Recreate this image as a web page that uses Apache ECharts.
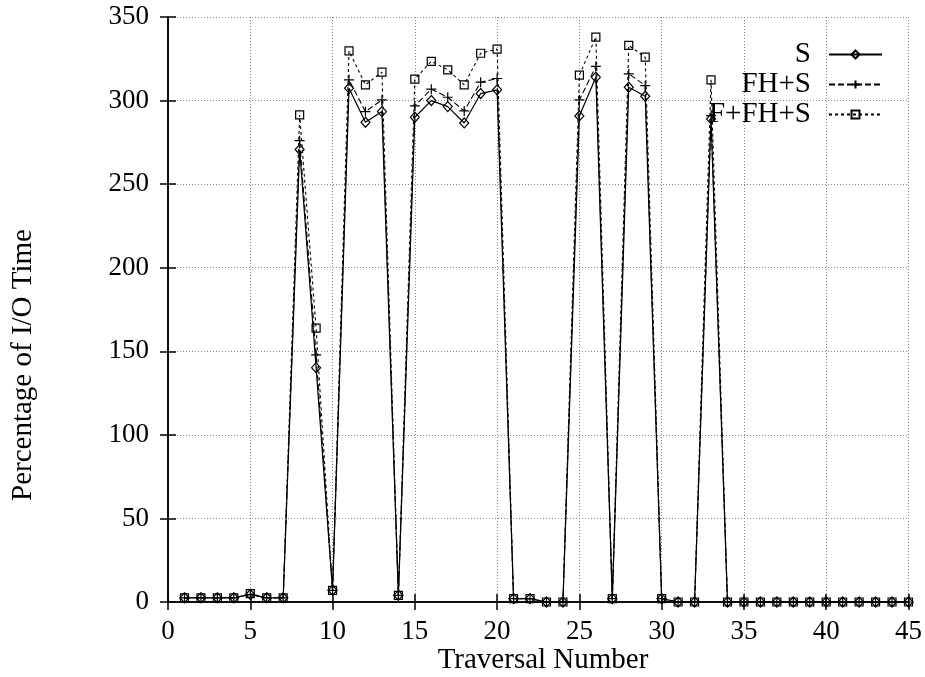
<!DOCTYPE html>
<html>
<head>
<meta charset="utf-8">
<script src="https://cdn.jsdelivr.net/npm/echarts@6/dist/echarts.min.js"></script>
<style>
html,body{margin:0;padding:0;background:#fff;}
#chart{width:925px;height:677px;}
</style>
</head>
<body>
<div id="chart"></div>
<script>
// Traversal numbers (x values)
var traversals = [1,2,3,4,5,6,7,8,9,10,11,12,13,14,15,16,17,18,19,20,21,22,23,24,25,26,27,28,29,30,31,32,33,34,35,36,37,38,39,40,41,42,43,44,45];
// Series values (percentage of I/O time)
var seriesS =     [2.5,2.5,2.5,2.5,4.5,2.5,2.5,270.7,140.2,7,307.4,287,293.4,4,290,300,296.4,286.6,304.2,306.4,2,2,0,0,290.8,314,2,308,302.6,2,0,0,289,0,0,0,0,0,0,0,0,0,0,0,0];
var seriesFHS =   [2.5,2.5,2.5,2.5,4.5,2.5,2.5,276,147.8,7,312.4,293.4,300.4,4,296.8,306.8,302,293.8,311,313.2,2,2,0,0,300.4,320.4,2,316,309,2,0,0,291,0,0,0,0,0,0,0,0,0,0,0,0];
var seriesFFHS =  [2.5,2.5,2.5,2.5,5,2.5,2.5,291.4,163.8,7,329.7,309.4,317,4,312.8,323.5,318.4,309.4,328.3,330.8,2,2,0,0,315.2,338,2,333,326,2,0,0,312.4,0,0,0,0,0,0,0,0,0,0,0,0];
var seriesNames = ['S','FH+S','F+FH+S'];
var xTitle = 'Traversal Number';
var yTitle = 'Percentage of I/O Time';

function pairs(vals){ return traversals.map(function(x,i){ return [x, vals[i]]; }); }

var FONT = "'Liberation Serif','Times New Roman',serif";
var chart = echarts.init(document.getElementById('chart'), null, {renderer:'canvas'});

var gridLine = {show:true, lineStyle:{color:'#8a8a8a', type:[1,2], width:1}};
var plusPath = 'path://M0,5L10,5M5,0L5,10';

function legendFor(name, top){
  return {
    data:[name], right:42, top:top, orient:'vertical', align:'right',
    padding:0, itemWidth:53, itemHeight:10,
    textStyle:{fontFamily:FONT, fontSize:29, color:'#000', padding:[0,13,0,0]},
    selectedMode:false
  };
}

var option = {
  animation:false,
  backgroundColor:'#fff',
  textStyle:{fontFamily:FONT},
  grid:{left:168, right:16, top:17, bottom:75, containLabel:false},
  legend:[legendFor(seriesNames[0],40), legendFor(seriesNames[1],70), legendFor(seriesNames[2],100)],
  xAxis:[{
    type:'value', min:0, max:45, interval:5, position:'bottom',
    axisLine:{show:true, lineStyle:{color:'#000', width:1.5}},
    axisTick:{show:true, inside:true, length:8, lineStyle:{color:'#000', width:1.5}},
    axisLabel:{show:true, margin:16, fontFamily:FONT, fontSize:27, color:'#000'},
    splitLine:gridLine
  },{
    type:'value', min:0, max:45, interval:5, position:'top',
    axisLine:{show:true, lineStyle:{color:'#000', width:1.5}},
    axisTick:{show:true, inside:true, length:8, lineStyle:{color:'#000', width:1.5}},
    axisLabel:{show:false}, splitLine:{show:false}
  }],
  yAxis:[{
    type:'value', min:0, max:350, interval:50, position:'left',
    axisLine:{show:true, lineStyle:{color:'#000', width:1.5}},
    axisTick:{show:true, inside:true, length:8, lineStyle:{color:'#000', width:1.5}},
    axisLabel:{show:true, margin:19, fontFamily:FONT, fontSize:27, color:'#000'},
    splitLine:gridLine
  },{
    type:'value', min:0, max:350, interval:50, position:'right',
    axisLine:{show:true, lineStyle:{color:'#000', width:1.5}},
    axisTick:{show:true, inside:true, length:8, lineStyle:{color:'#000', width:1.5}},
    axisLabel:{show:false}, splitLine:{show:false}
  }],
  graphic:[
    {type:'text', x:23, y:365, rotation:Math.PI/2,
     style:{text:yTitle, fontFamily:FONT, fontSize:29, fill:'#000', textAlign:'center', textVerticalAlign:'middle'}},
    {type:'text', x:543, y:660,
     style:{text:xTitle, fontFamily:FONT, fontSize:29, fill:'#000', textAlign:'center', textVerticalAlign:'middle'}}
  ],
  series:[
    {name:seriesNames[0], type:'line', data:pairs(seriesS), xAxisIndex:0, yAxisIndex:0,
     symbol:'diamond', symbolSize:[9,10], showAllSymbol:true,
     lineStyle:{color:'#000', width:1.2, type:'solid'},
     itemStyle:{color:'rgba(255,255,255,0)', borderColor:'#000', borderWidth:1.2}, z:3},
    {name:seriesNames[1], type:'line', data:pairs(seriesFHS), xAxisIndex:0, yAxisIndex:0,
     symbol:plusPath, symbolSize:10, showAllSymbol:true,
     lineStyle:{color:'#000', width:1.1, type:[6,3]},
     itemStyle:{color:'rgba(255,255,255,0)', borderColor:'#000', borderWidth:1.2}, z:2},
    {name:seriesNames[2], type:'line', data:pairs(seriesFFHS), xAxisIndex:0, yAxisIndex:0,
     symbol:'rect', symbolSize:8, showAllSymbol:true,
     lineStyle:{color:'#000', width:1.1, type:[3,3]},
     itemStyle:{color:'rgba(255,255,255,0)', borderColor:'#000', borderWidth:1.2}, z:1}
  ]
};
chart.setOption(option);
</script>
</body>
</html>
